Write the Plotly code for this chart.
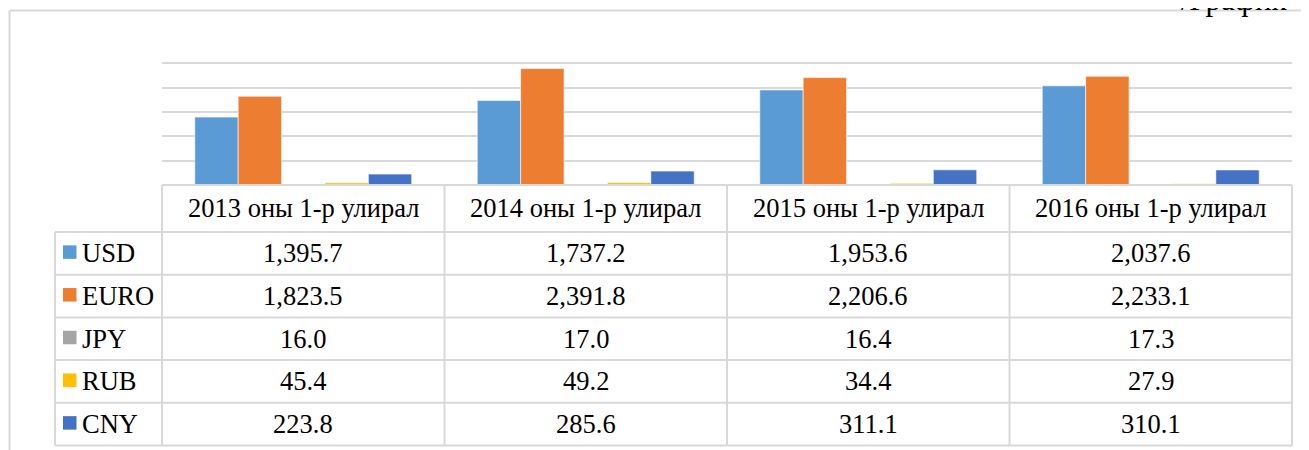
import plotly.graph_objects as go

# ---- data ----
categories = ["2013 оны 1-р улирал", "2014 оны 1-р улирал", "2015 оны 1-р улирал", "2016 оны 1-р улирал"]
series_names = ["USD", "EURO", "JPY", "RUB", "CNY"]
usd = [1395.7, 1737.2, 1953.6, 2037.6]
euro = [1823.5, 2391.8, 2206.6, 2233.1]
jpy = [16.0, 17.0, 16.4, 17.3]
rub = [45.4, 49.2, 34.4, 27.9]
cny = [223.8, 285.6, 311.1, 310.1]
series_values = [usd, euro, jpy, rub, cny]
colors = ["#5B9BD5", "#ED7D31", "#A5A5A5", "#FFC000", "#4472C4"]
corner_title = "/График 4/"

W, H = 1309, 450
OFF = 8  # page body margin
FONT = "Liberation Serif, Times New Roman, serif"
FS = 26.5
GRID = "#d9d9d9"


def px(x):
    return (x - OFF) / W


def py(y):
    return 1 - (y - OFF) / H


# layout geometry (page pixels)
plot_l, plot_r = 162, 1292
plot_top, plot_bot = 39, 185
leg_l = 55
header_bot = 232
row_h = (445.5 - header_bot) / len(series_names)

fig = go.Figure()
for name, vals, col in zip(series_names, series_values, colors):
    fig.add_trace(go.Bar(
        x=categories, y=vals, name=name, marker_color=col,
        marker_line=dict(color="rgba(255,255,255,0.6)", width=1),
    ))

shapes = []
line = dict(color=GRID, width=2)
# outer chart border
shapes.append(dict(type="line", xref="paper", yref="paper", x0=px(9.5), x1=px(W + 20), y0=py(10.5), y1=py(10.5), line=line))
shapes.append(dict(type="line", xref="paper", yref="paper", x0=px(9.5), x1=px(9.5), y0=py(10.5), y1=py(H + 20), line=line))
# table horizontal lines
table_bot = header_bot + row_h * len(series_names)
shapes.append(dict(type="line", xref="paper", yref="paper", x0=px(plot_l), x1=px(plot_r), y0=py(plot_bot), y1=py(plot_bot), line=line))
for i in range(len(series_names) + 1):
    yy = header_bot + i * row_h
    shapes.append(dict(type="line", xref="paper", yref="paper", x0=px(leg_l), x1=px(plot_r), y0=py(yy), y1=py(yy), line=line))
# table vertical lines
shapes.append(dict(type="line", xref="paper", yref="paper", x0=px(leg_l), x1=px(leg_l), y0=py(header_bot), y1=py(table_bot), line=line))
col_w = (plot_r - plot_l) / len(categories)
for j in range(len(categories) + 1):
    xx = plot_l + j * col_w
    shapes.append(dict(type="line", xref="paper", yref="paper", x0=px(xx), x1=px(xx), y0=py(plot_bot), y1=py(table_bot), line=line))

annotations = []
# header
for c in categories:
    annotations.append(dict(x=c, xref="x", y=py((plot_bot + header_bot) / 2), yref="paper",
                            text=c, showarrow=False, xanchor="center", yanchor="middle",
                            font=dict(family=FONT, size=FS, color="black")))
# rows
for i, (name, vals, col) in enumerate(zip(series_names, series_values, colors)):
    yc = header_bot + (i + 0.5) * row_h
    shapes.append(dict(type="rect", xref="paper", yref="paper", x0=px(63), x1=px(76.5),
                       y0=py(yc - 8), y1=py(yc + 5.5), fillcolor=col, line=dict(width=0)))
    annotations.append(dict(x=px(80), xref="paper", y=py(yc), yref="paper", text=name,
                            showarrow=False, xanchor="left", yanchor="middle",
                            font=dict(family=FONT, size=FS, color="black")))
    for c, v in zip(categories, vals):
        annotations.append(dict(x=c, xref="x", y=py(yc), yref="paper", text=f"{v:,.1f}",
                                showarrow=False, xanchor="center", yanchor="middle",
                                font=dict(family=FONT, size=FS, color="black")))

annotations.append(dict(x=px(1179), xref="paper", y=py(19.5), yref="paper", text=corner_title,
                        showarrow=False, xanchor="left", yanchor="bottom",
                        font=dict(family=FONT, size=31, color="black")))

fig.update_layout(
    width=W, height=H,
    margin=dict(l=0, r=0, t=0, b=0),
    paper_bgcolor="white", plot_bgcolor="white",
    barmode="group", bargap=0.232, bargroupgap=0,
    showlegend=False,
    xaxis=dict(domain=[px(plot_l), px(plot_r)], showticklabels=False, showgrid=False,
               zeroline=False, showline=False, ticks=""),
    yaxis=dict(domain=[py(plot_bot), py(plot_top)], range=[0, 3000], dtick=500,
               showticklabels=False, showgrid=True, gridcolor=GRID, gridwidth=2,
               zeroline=False, showline=False, ticks=""),
    shapes=shapes, annotations=annotations,
)

fig.write_html("out.html")
